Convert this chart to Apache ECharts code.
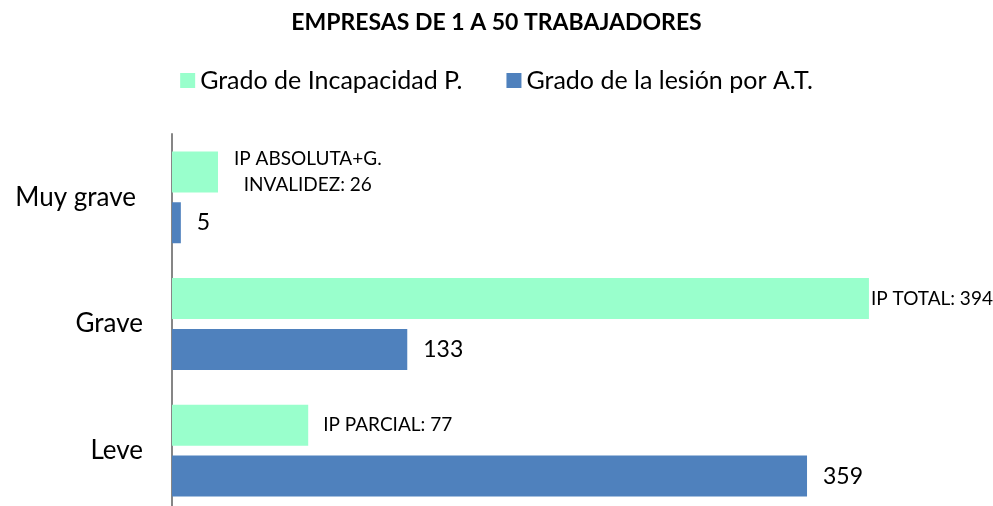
<!DOCTYPE html>
<html>
<head>
<meta charset="utf-8">
<script src="https://cdn.jsdelivr.net/npm/echarts@6/dist/echarts.min.js"></script>
<style>
  html, body { margin: 0; padding: 0; background: #fff; overflow: hidden; }
  #chart { width: 993px; height: 520px; }
</style>
</head>
<body>
<div id="chart"></div>
<script>
// datos
var categories = ['Muy grave', 'Grave', 'Leve'];
var incapacidad = [26, 394, 77];
var lesion = [5, 133, 359];
var incapacidadNombres = ['IP ABSOLUTA+G.\nINVALIDEZ', 'IP TOTAL', 'IP PARCIAL'];

// separacion de etiquetas verdes (estilo)
var greenLabelDistance = [16, 2, 15];

var myChart = echarts.init(document.getElementById('chart'));

var option = {
    backgroundColor: '#fff',
    textStyle: { fontFamily: 'Lato' },
    animation: false,
    title: {
        text: 'EMPRESAS DE 1 A 50 TRABAJADORES',
        left: 'center',
        top: 6,
        textStyle: { fontFamily: 'Lato', fontWeight: 'bold', fontSize: 23, color: '#000' }
    },
    legend: {
        top: 63,
        left: 'center',
        itemWidth: 15,
        itemHeight: 15,
        itemGap: 44,
        icon: 'rect',
        textStyle: { fontFamily: 'Lato', fontSize: 25, color: '#000' },
        data: ['Grado de Incapacidad P.', 'Grado de la lesión por A.T.']
    },
    grid: {
        left: 172,
        right: 25,
        top: 134,
        bottom: 6
    },
    xAxis: {
        type: 'value',
        min: 0,
        max: 450,
        show: false,
        splitLine: { show: false }
    },
    yAxis: {
        type: 'category',
        inverse: true,
        data: categories,
        axisLine: { show: true, lineStyle: { color: '#868686', width: 2 } },
        axisTick: { show: false },
        axisLabel: {
            margin: 29,
            fontFamily: 'Lato',
            fontSize: 26,
            color: '#000',
            formatter: function (v, i) {
                return i === 0 ? '{m|' + v + '}' : v;
            },
            rich: {
                m: { fontFamily: 'Lato', fontSize: 26, color: '#000', padding: [0, 7, 0, 0] }
            }
        }
    },
    series: [
        {
            name: 'Grado de Incapacidad P.',
            type: 'bar',
            barWidth: 41,
            barGap: '24%',
            itemStyle: { color: '#99FFCC' },
            data: incapacidad.map(function (v, i) {
                return { value: v, label: { distance: greenLabelDistance[i] } };
            }),
            label: {
                show: true,
                position: 'right',
                fontFamily: 'Lato',
                fontSize: 19,
                color: '#000',
                lineHeight: 26,
                formatter: function (p) {
                    var lines = (incapacidadNombres[p.dataIndex] + ': ' + p.value).split('\n');
                    return lines.map(function (l) { return '{c|' + l + '}'; }).join('\n');
                },
                rich: {
                    c: { align: 'center', fontFamily: 'Lato', fontSize: 19, color: '#000', lineHeight: 26 }
                }
            }
        },
        {
            name: 'Grado de la lesión por A.T.',
            type: 'bar',
            barWidth: 41,
            barGap: '24%',
            itemStyle: { color: '#4F81BD' },
            data: lesion,
            label: {
                show: true,
                position: 'right',
                distance: 16,
                fontFamily: 'Lato',
                fontSize: 23,
                color: '#000'
            }
        }
    ]
};

myChart.setOption(option);
</script>
</body>
</html>
